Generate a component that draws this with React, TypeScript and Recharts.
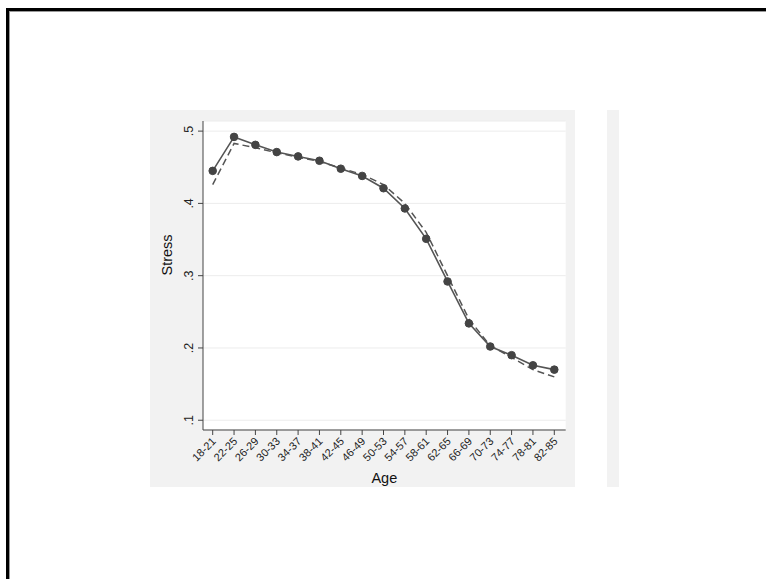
import React from "react";
import { LineChart, Line, XAxis, YAxis, CartesianGrid, Label } from "recharts";

const ageGroups = [
  "18-21", "22-25", "26-29", "30-33", "34-37", "38-41", "42-45", "46-49", "50-53",
  "54-57", "58-61", "62-65", "66-69", "70-73", "74-77", "78-81", "82-85",
];
const observed = [
  0.445, 0.492, 0.481, 0.471, 0.465, 0.459, 0.448, 0.438, 0.421,
  0.393, 0.351, 0.292, 0.234, 0.202, 0.19, 0.176, 0.17,
];
const fitted = [
  0.426, 0.483, 0.477, 0.47, 0.464, 0.458, 0.449, 0.44, 0.426,
  0.4, 0.36, 0.3, 0.24, 0.203, 0.187, 0.17, 0.16,
];
const yTicks = [0.1, 0.2, 0.3, 0.4, 0.5];

const data = ageGroups.map((a, i) => ({ age: a, observed: observed[i], fitted: fitted[i] }));

const FONT = "'Liberation Sans', Arial, Helvetica, sans-serif";

const YTick = (props: any) => {
  const { x, y, payload } = props;
  const label = Number(payload.value).toFixed(1).replace(/^0/, "");
  return (
    <text
      x={x - 3}
      y={y}
      transform={`rotate(-90, ${x - 3}, ${y})`}
      textAnchor="middle"
      fontSize={12.5}
      fontFamily={FONT}
      fill="#222"
    >
      {label}
    </text>
  );
};

const XTick = (props: any) => {
  const { x, y, payload } = props;
  const tx = x + 4;
  const ty = y + 5;
  return (
    <text
      x={tx}
      y={ty}
      transform={`rotate(-45, ${tx}, ${ty})`}
      textAnchor="end"
      fontSize={11}
      fontFamily={FONT}
      fill="#222"
    >
      {payload.value}
    </text>
  );
};

export default function App() {
  return (
    <div style={{ position: "absolute", left: 0, top: 0, width: 766, height: 579, background: "#fff", overflow: "hidden" }}>
      <div
        style={{
          position: "absolute",
          left: 6,
          top: 8,
          width: 900,
          height: 700,
          border: "3px solid #000",
          boxShadow: "inset 1px 1px 0 #999",
        }}
      />
      <div style={{ position: "absolute", left: 607, top: 110, width: 12, height: 377, background: "#f2f2f2" }} />
      <div style={{ position: "absolute", left: 150, top: 110, width: 425, height: 377, background: "#f2f2f2" }}>
        <LineChart
          width={425}
          height={377}
          data={data}
          margin={{ top: 11, right: 9.3, left: 0, bottom: 0 }}
        >
          <CartesianGrid vertical={false} stroke="#ececec" fill="#ffffff" />
          <XAxis
            dataKey="age"
            type="category"
            interval={0}
            height={57}
            padding={{ left: 9.7, right: 11.4 }}
            stroke="#444"
            tickSize={5}
            tick={<XTick />}
          >
            <Label value="Age" position="insideBottom" offset={4} fontSize={14.5} fontFamily={FONT} fill="#111" />
          </XAxis>
          <YAxis
            type="number"
            domain={[0.0865, 0.514]}
            ticks={yTicks}
            allowDataOverflow
            width={53}
            stroke="#444"
            tickSize={5}
            tick={<YTick />}
          >
            <Label value="Stress" angle={-90} position="insideLeft" offset={17} fontSize={14.5} fontFamily={FONT} fill="#111" />
          </YAxis>
          <Line
            dataKey="fitted"
            stroke="#555"
            strokeWidth={1.5}
            strokeDasharray="7 4"
            dot={false}
            isAnimationActive={false}
          />
          <Line
            dataKey="observed"
            stroke="#555"
            strokeWidth={1.6}
            dot={{ r: 3.8, fill: "#444", stroke: "#444", strokeWidth: 1 }}
            isAnimationActive={false}
          />
        </LineChart>
      </div>
    </div>
  );
}
